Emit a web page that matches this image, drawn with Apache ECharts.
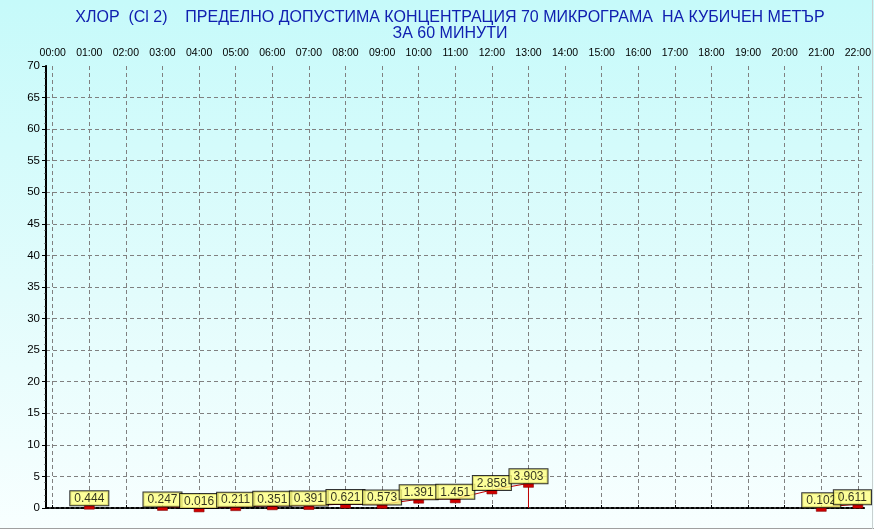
<!DOCTYPE html>
<html><head><meta charset="utf-8">
<script src="https://cdn.jsdelivr.net/npm/echarts@6/dist/echarts.min.js"></script>
<style>
html,body{margin:0;padding:0;background:#fff}
#c{width:874px;height:529px;background:linear-gradient(to bottom,#c6fafa 0%,#e2fcfc 55%,#f8ffff 100%)}
</style></head>
<body><div id="c"></div>
<script>
var titleLine1 = 'ХЛОР  (Cl 2)    ПРЕДЕЛНО ДОПУСТИМА КОНЦЕНТРАЦИЯ 70 МИКРОГРАМА  НА КУБИЧЕН МЕТЪР';
var titleLine2 = 'ЗА 60 МИНУТИ';
var hourLabels = ['00:00','01:00','02:00','03:00','04:00','05:00','06:00','07:00','08:00','09:00','10:00','11:00','12:00','13:00','14:00','15:00','16:00','17:00','18:00','19:00','20:00','21:00','22:00'];
var measuredHours = [1, 3, 4, 5, 6, 7, 8, 9, 10, 11, 12, 13, 21, 22];
var measuredValues = [0.444, 0.247, 0.016, 0.211, 0.351, 0.391, 0.621, 0.573, 1.391, 1.451, 2.858, 3.903, 0.102, 0.611];
var dropHours = [13];
var yMin = 0, yMax = 70, yStep = 5;

var lineData = [];
for (var h = 0; h < hourLabels.length; h++) {
  var idx = measuredHours.indexOf(h);
  lineData.push(idx >= 0 ? [h, measuredValues[idx]] : [h, '-']);
}
var labelData = measuredHours.map(function (h, i) { return [h, measuredValues[i]]; });
var dropData = [];
dropHours.forEach(function (h) {
  var i = measuredHours.indexOf(h);
  dropData.push([h, measuredValues[i]], [h, yMin]);
});

var chart = echarts.init(document.getElementById('c'), null, {renderer: 'canvas'});
var gridDash = {color: '#808080', type: [4, 3], width: 1};
chart.setOption({
  animation: false,
  title: {
    text: titleLine1 + '\n' + titleLine2,
    left: 445, top: 5, textAlign: 'center',
    textStyle: {fontFamily: 'Liberation Sans, Arial', fontSize: 16, fontWeight: 'normal', color: '#1020b0', lineHeight: 16}
  },
  grid: [
    {left: 46, right: 9, top: 66, bottom: 21},
    {left: 52.7, right: 14, top: 66, bottom: 21}
  ],
  xAxis: [
    {gridIndex: 0, type: 'value', position: 'top', min: 0, max: 1,
     axisLine: {show: true, lineStyle: {color: '#000', width: 2, type: [3, 2]}},
     axisTick: {show: false}, axisLabel: {show: false}, splitLine: {show: false}},
    {gridIndex: 0, type: 'value', position: 'bottom', min: 0, max: 1,
     axisLine: {show: true, lineStyle: {color: '#000', width: 1, type: [3, 2]}},
     axisTick: {show: false}, axisLabel: {show: false}, splitLine: {show: false}},
    {gridIndex: 1, type: 'value', position: 'top', min: 0, max: hourLabels.length - 1, interval: 1,
     axisLine: {show: false},
     axisTick: {show: true, length: 3, lineStyle: {color: '#000'}},
     axisLabel: {show: true, margin: 7, fontFamily: 'Liberation Sans, Arial', fontSize: 10.5, color: '#000',
       formatter: function (v) { return hourLabels[Math.round(v)] || ''; }},
     splitLine: {show: true, lineStyle: gridDash}}
  ],
  yAxis: [
    {gridIndex: 0, type: 'value', position: 'left', min: yMin, max: yMax, interval: yStep,
     axisLine: {show: true, lineStyle: {color: '#000', width: 2}},
     axisTick: {show: true, length: 4, lineStyle: {color: '#000'}},
     minorTick: {show: true, splitNumber: 5, length: 1.5, lineStyle: {color: '#333'}},
     axisLabel: {show: true, margin: 6, fontFamily: 'Liberation Sans, Arial', fontSize: 11.5, color: '#000'},
     splitLine: {show: true, showMinLine: false, showMaxLine: false, lineStyle: gridDash}},
    {gridIndex: 0, type: 'value', position: 'right', min: yMin, max: yMax,
     axisLine: {show: true, lineStyle: {color: '#000', width: 1}},
     axisTick: {show: false}, axisLabel: {show: false}, splitLine: {show: false}},
    {gridIndex: 1, type: 'value', min: yMin, max: yMax, show: false}
  ],
  series: [
    {type: 'line', xAxisIndex: 2, yAxisIndex: 2, data: lineData, silent: true,
     lineStyle: {color: '#c00000', width: 1},
     symbol: 'rect', symbolSize: [10, 4], symbolOffset: [0, 2], showAllSymbol: true,
     itemStyle: {color: '#d00000', borderColor: '#800000', borderWidth: 0.5}, z: 3},
    {type: 'line', xAxisIndex: 2, yAxisIndex: 2, data: dropData, silent: true, symbol: 'none',
     lineStyle: {color: '#c00000', width: 1}, z: 3},
    {type: 'scatter', xAxisIndex: 2, yAxisIndex: 2, data: labelData, silent: true, symbolSize: 0, z: 5,
     label: {show: true, position: 'top', distance: 0,
       formatter: function (p) { return p.value[1].toFixed(3); },
       fontFamily: 'Liberation Sans, Arial', fontSize: 12, color: '#000', lineHeight: 13,
       backgroundColor: '#ffff80', borderColor: '#000', borderWidth: 1, padding: [1, 4, 0, 4]},
     labelLayout: function (p) {
       var r = p.labelRect;
       if (r.x + r.width > 872) { return {dx: 872 - (r.x + r.width)}; }
       return {};
     }}
  ],
  graphic: [
    {type: 'line', shape: {x1: 0, y1: 528.5, x2: 874, y2: 528.5}, style: {stroke: '#a0a0a0', lineWidth: 1}, silent: true},
    {type: 'line', shape: {x1: 872.5, y1: 0, x2: 872.5, y2: 529}, style: {stroke: '#c8d0d0', lineWidth: 1}, silent: true}
  ]
});
</script></body></html>
